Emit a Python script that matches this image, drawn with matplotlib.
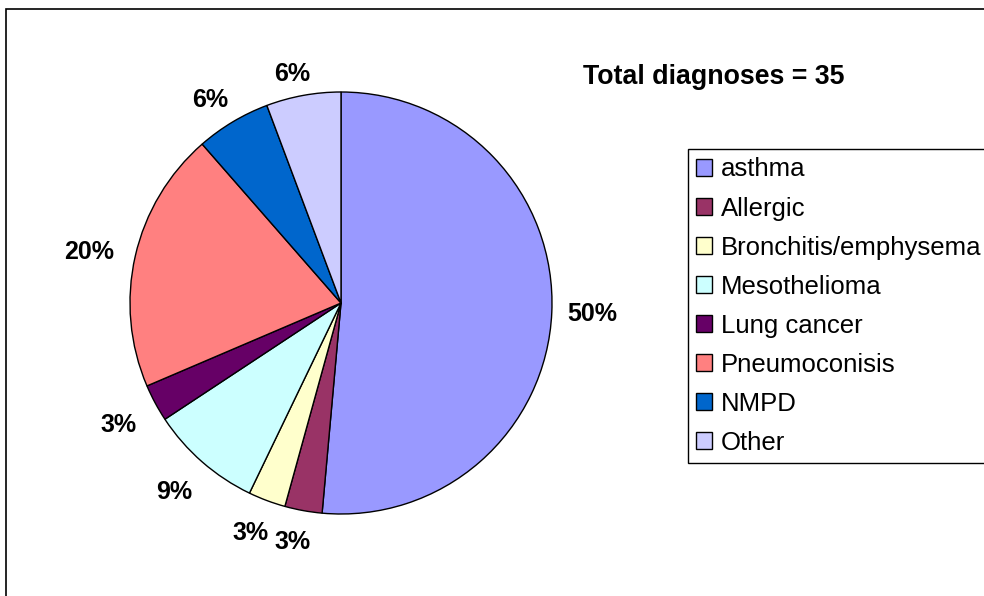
import numpy as np
import matplotlib.pyplot as plt
from matplotlib.patches import Rectangle

# Diagnoses by type (counts, total 35)
categories = ["asthma", "Allergic", "Bronchitis/emphysema", "Mesothelioma",
              "Lung cancer", "Pneumoconisis", "NMPD", "Other"]
counts = [18, 1, 1, 3, 1, 7, 2, 2]
pct_labels = ["50%", "3%", "3%", "9%", "3%", "20%", "6%", "6%"]
title_text = "Total diagnoses = 35"

colors = ["#9999FF", "#993366", "#FFFFCC", "#CCFFFF",
          "#660066", "#FF8080", "#0066CC", "#CCCCFF"]

plt.rcParams['font.family'] = ['Liberation Sans', 'DejaVu Sans']

W, H = 984, 596
fig = plt.figure(figsize=(W / 100, H / 100), dpi=100)

# outer chart frame (right and bottom edges fall outside the image)
fig.add_artist(Rectangle((6 / W, -0.2), 1.2, (H - 9) / H + 0.2,
                         transform=fig.transFigure, fill=False,
                         edgecolor='black', linewidth=1.2, clip_on=False))

cx, cy, r = 341, 303, 211
ax = fig.add_axes([(cx - r) / W, (H - cy - r) / H, 2 * r / W, 2 * r / H])

wedges, texts = ax.pie(
    counts,
    colors=colors,
    labels=pct_labels,
    startangle=90,
    counterclock=False,
    labeldistance=1.17,
    wedgeprops=dict(edgecolor='black', linewidth=1.0),
    textprops=dict(fontsize=18, fontweight='bold', color='black'),
)
ax.set_xlim(-1, 1)
ax.set_ylim(-1, 1)
ax.set_aspect('equal')

# Excel-style label placement: nearest edge of the label box sits a fixed
# gap outside the circle; left-hand labels sit a little lower and further out
fig.canvas.draw()
renderer = fig.canvas.get_renderer()
for w, t in zip(wedges, texts):
    t.set_horizontalalignment('center')
    t.set_verticalalignment('center')
    ang = np.deg2rad((w.theta1 + w.theta2) / 2)
    ux, uy = np.cos(ang), np.sin(ang)
    bb = t.get_window_extent(renderer)
    hw, hh = bb.width / 2, bb.height / 2 * 0.75
    d = (r * 1.07 + abs(ux) * hw + abs(uy) * hh) / r
    x, y = d * ux, d * uy
    if ux < 0:
        x -= 6 / r
        y -= 5 / r
    t.set_position((x, y))

fig.text(714 / W, 1 - 77 / H, title_text, fontsize=19.3, fontweight='bold',
         ha='center', va='center')

leg = fig.legend(wedges, categories, loc='upper left',
                 bbox_to_anchor=(688 / W, 1 - 149 / H),
                 fontsize=18.5, frameon=True, fancybox=False, shadow=False,
                 edgecolor='black', framealpha=1, borderpad=0.33,
                 labelspacing=0.585, handlelength=0.6, handleheight=0.6,
                 handletextpad=0.35, borderaxespad=0)
leg.get_frame().set_linewidth(1.0)

fig.savefig("out.png", dpi=100)
